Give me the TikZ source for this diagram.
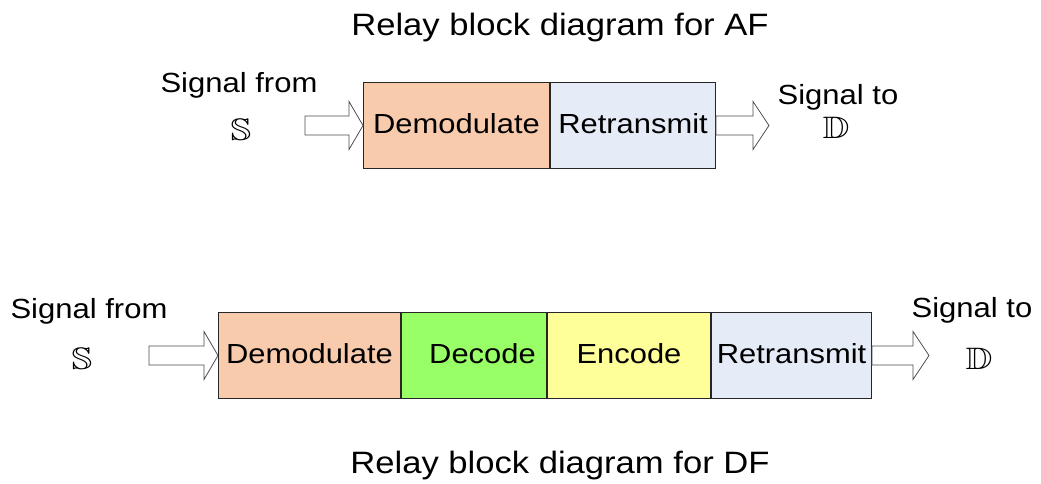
\documentclass[tikz,border=0pt]{standalone}
\usepackage{fontspec}
\setmainfont[FakeStretch=1.12]{Liberation Sans}
\usepackage{amssymb}
\usepackage{graphicx}

\definecolor{peach}{HTML}{F8CBAD}
\definecolor{paleblue}{HTML}{E6ECF7}
\definecolor{limegreen}{HTML}{99FF66}
\definecolor{paleyellow}{HTML}{FFFF99}

\tikzset{
  block/.style={draw=black!85, line width=1pt, inner sep=0pt, anchor=north west,
    minimum height=86pt, text height=22pt, text depth=6pt,
    font=\fontsize{27.6}{30}\selectfont},
  caption/.style={anchor=base, inner sep=0pt, font=\fontsize{30.9}{34}\selectfont},
  sidetext/.style={anchor=base, inner sep=0pt, font=\fontsize{27.7}{30}\selectfont},
  setsym/.style={anchor=base, inner sep=0pt, font=\fontsize{31}{32}\selectfont},
  arrowline/.style={draw=black!70, line width=0.8pt, fill=white, line join=miter},
  % hollow block arrow: #1 = total length, #2 = head length; tip at the origin
  pics/fatarrow/.style n args={2}{code={
    \draw[arrowline] (0,0) -- (-#2,-24) -- (-#2,-9.5) -- (-#1,-9.5)
      -- (-#1,9.5) -- (-#2,9.5) -- (-#2,24) -- cycle;
  }}
}

\begin{document}
\begin{tikzpicture}[x=1pt,y=-1pt]
\useasboundingbox (0,0) rectangle (1041,484);

% ---- amplify-and-forward relay ----
\node[caption] (tAF) at (560,36) {Relay block diagram for AF};

\node[block, fill=peach, minimum width=186pt] (dA) at (363,82) {Demodulate};
\node[block, fill=paleblue, minimum width=165pt] (rA) at (dA.north east) {Retransmit};

\node[sidetext] (inA) at (239,93) {Signal from};
\node[setsym] (sA) at (241,141) {\scalebox{1.2}[1]{$\mathbb{S}$}};
\node[sidetext] (outA) at (838,105) {Signal to};
\node[setsym] (dstA) at (836,139) {\scalebox{1.2}[1]{$\mathbb{D}$}};

\pic at (dA.west) {fatarrow={58}{14}};
\coordinate (tipA) at ([xshift=53pt]rA.east);
\pic at (tipA) {fatarrow={53}{16}};

% ---- decode-and-forward relay ----
\node[block, fill=peach, minimum width=182pt] (dB) at (218,312) {Demodulate};
\node[block, fill=limegreen, minimum width=145pt] (decB) at (dB.north east) {\hspace*{17pt}Decode};
\node[block, fill=paleyellow, minimum width=163pt] (encB) at (decB.north east) {Encode};
\node[block, fill=paleblue, minimum width=160pt] (rB) at (encB.north east) {Retransmit};

\node[sidetext] (inB) at (89,318) {Signal from};
\node[setsym] (sB) at (82,369) {\scalebox{1.2}[1]{$\mathbb{S}$}};
\node[sidetext] (outB) at (972,317) {Signal to};
\node[setsym] (dstB) at (979,369) {\scalebox{1.2}[1]{$\mathbb{D}$}};

\pic at (dB.west) {fatarrow={69}{14}};
\coordinate (tipB) at ([xshift=57pt]rB.east);
\pic at (tipB) {fatarrow={57}{16}};

\node[caption] (tDF) at (560,473) {Relay block diagram for DF};
\end{tikzpicture}
\end{document}
